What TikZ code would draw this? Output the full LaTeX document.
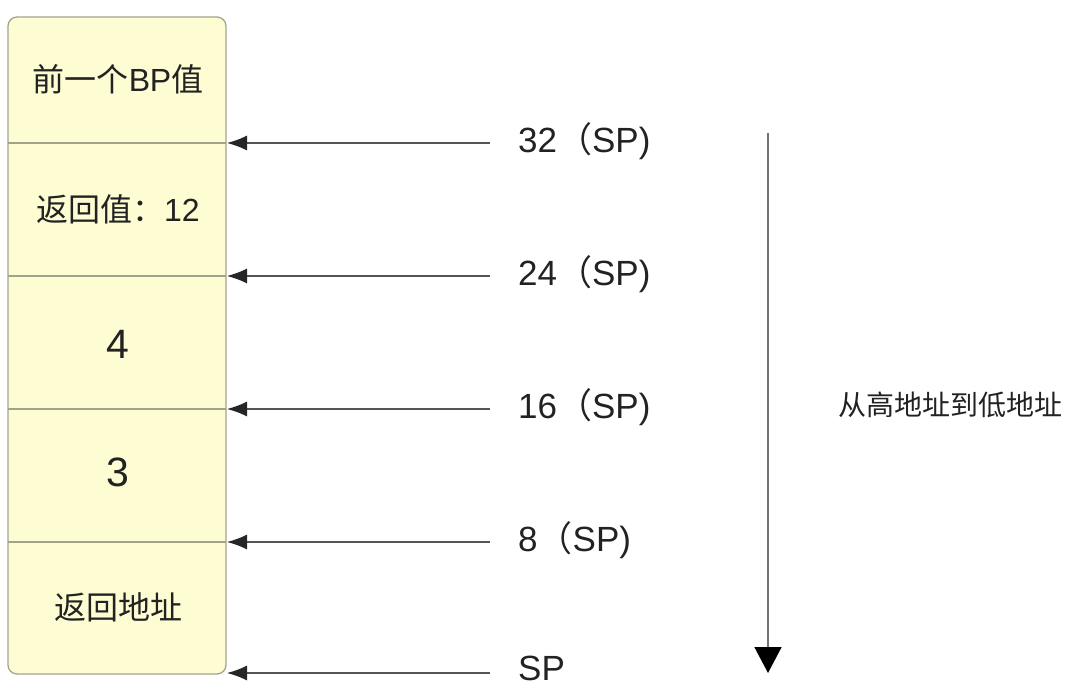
\documentclass[tikz,border=0pt]{standalone}
\usepackage{fontspec}
\setmainfont{Liberation Sans}
\newfontfamily\cjk{Noto Sans CJK SC}
\usetikzlibrary{arrows.meta}
\definecolor{cellfill}{HTML}{FEFCD3}
\definecolor{celldraw}{HTML}{A3A38C}
\definecolor{txt}{HTML}{222222}
\definecolor{arline}{HTML}{555555}
\tikzset{
  celltext/.style={text=txt, inner sep=0pt, font=\fontsize{32}{36}\selectfont},
  bigtext/.style={text=txt, inner sep=0pt, font=\fontsize{41}{46}\selectfont},
  sptext/.style={text=txt, inner sep=0pt, anchor=west, font=\fontsize{35}{40}\selectfont},
  ptr/.style={draw=arline, line width=1.3pt, -{Latex[length=20pt,width=15pt,color=black!85]}, shorten <=28pt},
  dirarrow/.style={draw=black!55, line width=1.5pt, -{Triangle[length=26pt,width=27pt,color=black]}},
  divider/.style={draw=celldraw, line width=1.3pt}
}
\begin{document}
\begin{tikzpicture}[x=1pt,y=-1pt]
\useasboundingbox (0,0) rectangle (1075,696);
% stack box
\draw[fill=cellfill, draw=celldraw, line width=1.3pt, rounded corners=9pt] (8,17) rectangle (226,674);
\foreach \yy in {143,276,409,542} \draw[divider] (8,\yy) -- (226,\yy);
% cell texts
\node[celltext] (c1) at (118,79) {{\cjk 前一个}B{\kern-0.5pt}P{\cjk 值}};
\node[celltext] (c2) at (118,209) {{\cjk 返回值：}12};
\node[bigtext] (c3) at (118,344) {4};
\node[bigtext] (c4) at (118,472) {3};
\node[celltext] (c5) at (118,607) {\cjk 返回地址};
% edge points
\coordinate (e1) at (227,143);
\coordinate (e2) at (227,276);
\coordinate (e3) at (227,409);
\coordinate (e4) at (227,542);
\coordinate (e5) at (227,673);
% labels
\node[sptext] (l1) at (518,141) {32{\cjk （}SP)};
\node[sptext] (l2) at (518,274) {24{\cjk （}SP)};
\node[sptext] (l3) at (518,407) {16{\cjk （}SP)};
\node[sptext] (l4) at (518,540) {8{\cjk （}SP)};
\node[sptext] (l5) at (518,668) {SP};
\draw[ptr] (l1.west |- e1) -- (e1);
\draw[ptr] (l2.west |- e2) -- (e2);
\draw[ptr] (l3.west |- e3) -- (e3);
\draw[ptr] (l4.west |- e4) -- (e4);
\draw[ptr] (l5.west |- e5) -- (e5);
% direction arrow
\coordinate (va1) at (768,133);
\coordinate (va2) at (768,673);
\draw[dirarrow] (va1) -- (va2);
\node[celltext, font=\fontsize{28}{32}\selectfont\cjk] (dir) at (950,405) {从高地址到低地址};
\end{tikzpicture}
\end{document}
